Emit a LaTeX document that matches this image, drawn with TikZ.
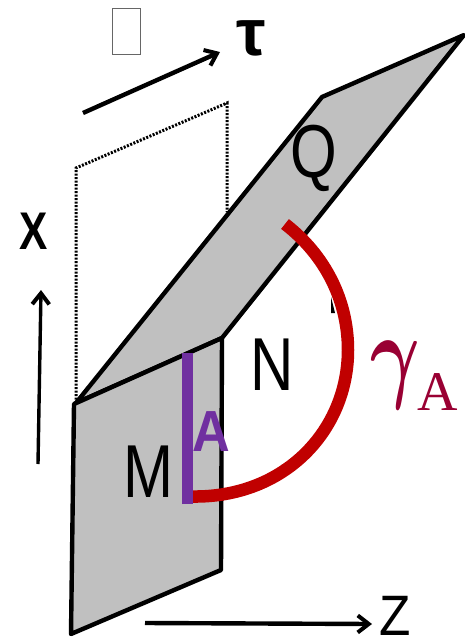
\documentclass[tikz,border=0pt]{standalone}
\usepackage{fontspec}
\setmainfont{Liberation Sans}
\newfontfamily\serifgamma{Liberation Serif}
\usetikzlibrary{arrows.meta}
\definecolor{planegray}{RGB}{192,192,192}
\definecolor{arcred}{RGB}{192,0,0}
\definecolor{linepurple}{RGB}{112,48,160}
\definecolor{gammared}{RGB}{153,0,51}
\tikzset{
  plane/.style={draw=black,fill=planegray,line width=4.4pt,line join=round},
  axis/.style={draw=black,line width=4.4pt,-{Straight Barb[length=11pt,width=17pt,line width=4pt]}},
  bigletter/.style={font=\fontsize{75}{75}\selectfont,xscale=.8,inner sep=0pt},
}
\begin{document}
\begin{tikzpicture}[x=1pt,y=-1pt,>=Stealth]
\useasboundingbox (0,0) rectangle (464,640);
% corners
\coordinate (ml) at (74,404);
\coordinate (mt) at (222,338);
\coordinate (mb) at (221,570);
\coordinate (mbl) at (71,634);
\coordinate (qb) at (76,403);
\coordinate (qt) at (322,97);
\coordinate (qr) at (464,35);
\coordinate (dl) at (76,168);
\coordinate (dt) at (227,103);
\coordinate (dm) at (227,212);
\coordinate (taustart) at (83,113);
\coordinate (tauend) at (220,52);
\coordinate (xstart) at (38,464);
\coordinate (xend) at (41,290);
\coordinate (zstart) at (145,623);
\coordinate (zend) at (372,624);
\coordinate (abot) at (187.5,504);
\coordinate (atop) at (187.5,353);
\coordinate (arcstart) at (285,224);
\coordinate (arcmid) at (348,350);
\coordinate (arcend) at (192,496.5);
% dotted plane
\draw[line width=3pt,dash pattern=on 2pt off 1.5pt] (qb)--(dl)--(dt)--(dm);
% gray planes
\draw[plane] (qb)--(qt)--(qr)--(mt)--cycle;
\draw[plane] (ml)--(mt)--(mb)--(mbl)--cycle;
% axes
\draw[axis] (taustart)--(tauend);
\draw[axis,line width=3.4pt] (xstart)--(xend);
\draw[axis] (zstart)--(zend);
% arc
\fill[black] (331,297)--(335,313)--(331,313)--cycle;
\fill[black] (281,465)--(291,463)--(289,467)--cycle;
\draw[arcred,line width=12.5pt] (arcstart) .. controls (325,255) and (348,300) .. (arcmid)
  .. controls (348,430) and (285,498) .. (arcend);
\draw[linepurple,line width=10.5pt] (abot)--(atop);
% labels
\node[draw=black!60,line width=1pt,minimum width=28pt,minimum height=46pt,inner sep=0pt] (box) at (126.5,31) {};
\node[font=\fontsize{66}{66}\selectfont\bfseries,inner sep=0pt] (tau) at (251,38) {τ};
\node[font=\fontsize{53}{53}\selectfont\bfseries,xscale=.8,inner sep=0pt] (xlab) at (34,231) {X};
\node[font=\fontsize{57}{57}\selectfont,xscale=.9,inner sep=0pt] (zlab) at (395,616) {Z};
\node[bigletter] (qlab) at (314,158) {Q};
\node[bigletter] (nlab) at (272,365) {N};
\node[bigletter] (mlab) at (148,472) {M};
\node[font=\fontsize{58}{58}\selectfont\bfseries,text=linepurple,inner sep=0pt,xscale=.9] (alab) at (211,432) {A};
\node[font=\boldmath,text=gammared,inner sep=0pt,xscale=7.6,yscale=10.6] (gamma) at (395,375) {$\gamma$};
\node[font=\serifgamma\fontsize{56}{56}\selectfont,text=gammared,inner sep=0pt] (gsub) at (438,392) {A};
\end{tikzpicture}
\end{document}
